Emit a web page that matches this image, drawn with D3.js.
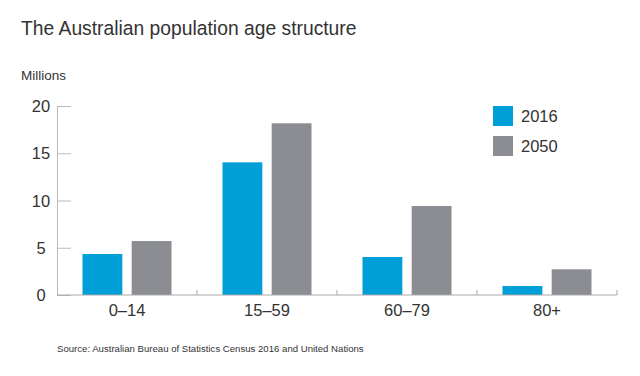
<!DOCTYPE html>
<html>
<head>
<meta charset="utf-8">
<script src="https://cdn.jsdelivr.net/npm/d3@7"></script>
<style>
  body { margin: 0; background: #fff; }
  text { font-family: "Liberation Sans", Arial, sans-serif; fill: #333; }
</style>
</head>
<body>
<svg class="svgMain" width="640" height="376"></svg>
<script>
// Age groups and population (millions).
const ageGroups = ["0–14", "15–59", "60–79", "80+"];
const years = ["2016", "2050"];
const pop2016 = [4.34, 14.04, 4.02, 0.95];
const pop2050 = [5.71, 18.17, 9.42, 2.72];
const yTicks = [0, 5, 10, 15, 20];
const colors = ["#009fd8", "#8c8d92"];

const svg = d3.select(".svgMain");
const plotLeft = 57, plotRight = 617, plotTop = 106, plotBottom = 295;

// Scales.
const x = d3.scaleBand().domain(ageGroups).range([plotLeft, plotRight]).paddingInner(0).paddingOuter(0);
const xInner = d3.scaleBand().domain(years).range([25.5, x.bandwidth() - 25.5]).paddingInner(0.19);
const y = d3.scaleLinear().domain([0, 20]).range([plotBottom, plotTop]);

// Title and unit label.
svg.append("text").text("The Australian population age structure")
    .attr("x", 21).attr("y", 35).attr("font-size", 19.3).attr("fill", "#333");
svg.append("text").text("Millions")
    .attr("x", 21).attr("y", 80).attr("font-size", 13.5);

// Y axis: ticks point inward, light grey.
const yAxis = svg.append("g").attr("transform", `translate(${plotLeft},0)`)
    .call(d3.axisRight(y).tickValues(yTicks).tickSize(14).tickFormat(""));
yAxis.selectAll("line").attr("stroke", "#bbb");
yAxis.select(".domain").attr("stroke", "#bbb");
yAxis.selectAll(".ylab").data(yTicks).join("text")
    .attr("class", "ylab")
    .attr("x", -16).attr("y", d => y(d) + 6)
    .attr("text-anchor", "middle").attr("font-size", 16.5)
    .text(d => d);

// Bars.
const rows = ageGroups.map((g, i) => ({ group: g, values: [pop2016[i], pop2050[i]] }));
svg.append("g").selectAll("g").data(rows).join("g")
    .attr("transform", d => `translate(${x(d.group)},0)`)
    .selectAll("rect").data(d => d.values.map((v, j) => ({ year: years[j], v: v, j: j })))
    .join("rect")
    .attr("x", d => xInner(d.year)).attr("width", xInner.bandwidth())
    .attr("y", d => y(d.v)).attr("height", d => y(0) - y(d.v))
    .attr("fill", d => colors[d.j]);

// X axis: baseline with small ticks at category boundaries.
svg.append("line").attr("x1", plotLeft).attr("x2", plotRight).attr("y1", plotBottom).attr("y2", plotBottom)
    .attr("stroke", "#aaa");
const bounds = ageGroups.slice(1).map(g => x(g)).concat([plotRight]);
svg.selectAll(".xtick").data(bounds).join("line")
    .attr("class", "xtick")
    .attr("x1", d => d).attr("x2", d => d)
    .attr("y1", plotBottom - 5).attr("y2", plotBottom)
    .attr("stroke", "#aaa");
svg.selectAll(".xlab").data(ageGroups).join("text")
    .attr("class", "xlab")
    .attr("x", d => x(d) + x.bandwidth() / 2).attr("y", 316)
    .attr("text-anchor", "middle").attr("font-size", 16.5)
    .text(d => d);

// Legend.
const legend = svg.append("g").attr("transform", "translate(493,106)");
years.forEach((yr, i) => {
    legend.append("rect").attr("x", 0).attr("y", i * 30).attr("width", 20).attr("height", 20)
        .attr("fill", colors[i]);
    legend.append("text").text(yr).attr("x", 28).attr("y", i * 30 + 16)
        .attr("font-size", 16.5);
});

// Source note.
svg.append("text").text("Source: Australian Bureau of Statistics Census 2016 and United Nations")
    .attr("x", 57).attr("y", 352).attr("font-size", 9.6).attr("fill", "#222");
</script>
</body>
</html>
